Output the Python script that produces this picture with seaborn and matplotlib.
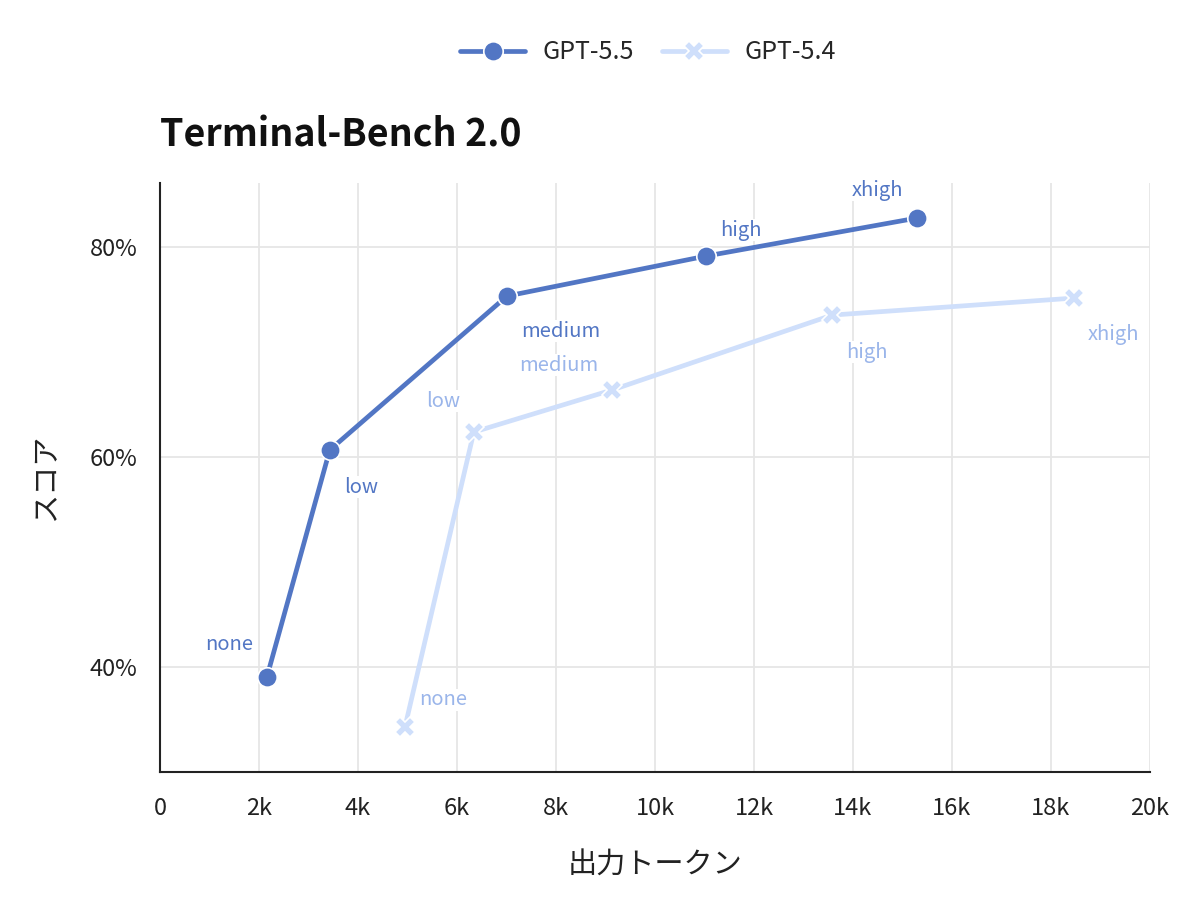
import matplotlib
matplotlib.use("Agg")
import matplotlib.pyplot as plt
import seaborn as sns
import pandas as pd
from matplotlib.ticker import FuncFormatter, MultipleLocator

efforts = ["none", "low", "medium", "high", "xhigh"]
gpt55_tokens = [2160, 3430, 7010, 11030, 15290]
gpt55_score = [39.05, 60.67, 75.33, 79.14, 82.76]
gpt54_tokens = [4950, 6340, 9130, 13580, 18460]
gpt54_score = [34.29, 62.38, 66.38, 73.52, 75.14]
models = ["GPT-5.5", "GPT-5.4"]
title = "Terminal-Bench 2.0"
xlabel = "出力トークン"
ylabel = "スコア"

df = pd.DataFrame({
    "tokens": gpt55_tokens + gpt54_tokens,
    "score": gpt55_score + gpt54_score,
    "model": [models[0]] * 5 + [models[1]] * 5,
    "effort": efforts + efforts,
})

sns.set_theme(style="white")
plt.rcParams["font.family"] = ["Noto Sans CJK JP", "DejaVu Sans"]

c55 = "#5276c4"
c54 = "#cfdffb"
lab55 = "#5276c4"
lab54 = "#9ab5ea"

fig = plt.figure(figsize=(12, 9.06), dpi=100)
ax = fig.add_axes([0.1333, 0.1479, 0.825, 0.6501])

sns.lineplot(data=df, x="tokens", y="score", hue="model", style="model",
             palette={models[0]: c55, models[1]: c54},
             markers={models[0]: "o", models[1]: "X"}, dashes=False,
             linewidth=3.4, markersize=14, markeredgecolor="white",
             markeredgewidth=1.2, ax=ax, zorder=3)

offsets55 = [(-38, 32), (31, -37), (54, -35), (35, 26), (-39, 28)]
offsets54 = [(38, 27), (-31, 31), (-53, 25), (35, -37), (40, -36)]
for x, y, e, off in zip(gpt55_tokens, gpt55_score, efforts, offsets55):
    ax.annotate(e, (x, y), xytext=off, textcoords="offset pixels",
                ha="center", va="center", fontsize=14.5, color=lab55,
                bbox=dict(facecolor="white", edgecolor="none", pad=0.5), zorder=4)
for x, y, e, off in zip(gpt54_tokens, gpt54_score, efforts, offsets54):
    ax.annotate(e, (x, y), xytext=off, textcoords="offset pixels",
                ha="center", va="center", fontsize=14.5, color=lab54,
                bbox=dict(facecolor="white", edgecolor="none", pad=0.5), zorder=4)

ax.set_xlim(0, 20000)
ax.set_ylim(30, 86.1)
ax.xaxis.set_major_locator(MultipleLocator(2000))
ax.set_yticks([40, 60, 80])
ax.xaxis.set_major_formatter(FuncFormatter(lambda v, p: "0" if v == 0 else f"{int(v/1000)}k"))
ax.yaxis.set_major_formatter(FuncFormatter(lambda v, p: f"{int(v)}%"))
ax.grid(True, color="#e6e6e6", linewidth=1.3)
ax.set_axisbelow(True)
for s in ["top", "right"]:
    ax.spines[s].set_visible(False)
for s in ["left", "bottom"]:
    ax.spines[s].set_color("#222222")
    ax.spines[s].set_linewidth(1.5)
ax.tick_params(axis="x", labelsize=17, colors="#222222", length=0, pad=18)
ax.tick_params(axis="y", labelsize=17, colors="#222222", length=0, pad=16)
ax.set_xlabel(xlabel, fontsize=21, labelpad=22, color="#222222")
ax.set_ylabel(ylabel, fontsize=21, labelpad=21, color="#222222")

fig.text(0.1333, 0.851, title, fontsize=27, fontweight="bold", color="#111111",
         ha="left", va="center")

sns.move_legend(ax, "center", bbox_to_anchor=(0.493, 1.222), ncol=2, title=None,
                frameon=False, fontsize=18, handlelength=2.6, handletextpad=0.7,
                columnspacing=1.1)

fig.savefig("out.png", dpi=100)
